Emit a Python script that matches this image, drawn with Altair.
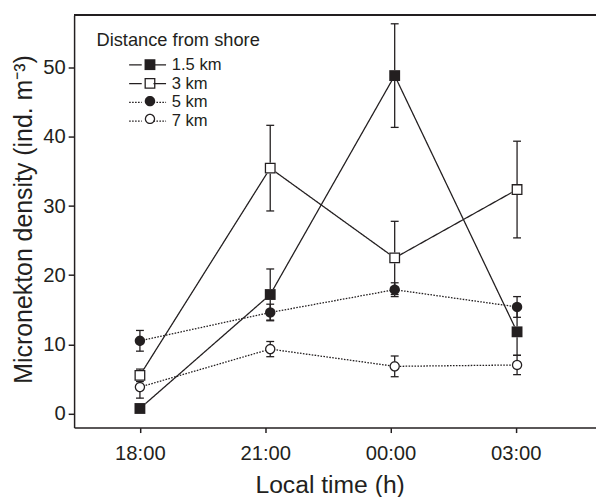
import math
import altair as alt
import pandas as pd

# ---- data ----
times = [18.0, 21.12, 24.1, 27.03]          # sampling times (hours, 27 = 03:00 next day)
distances = ["1.5 km", "3 km", "5 km", "7 km"]
mean_15 = [0.7, 17.2, 48.9, 11.8]
se_15 = [0.0, 3.7, 7.5, 3.4]
mean_3 = [5.5, 35.5, 22.5, 32.4]
se_3 = [0.9, 6.2, 5.3, 7.0]
mean_5 = [10.5, 14.6, 17.9, 15.4]
se_5 = [1.5, 1.2, 1.0, 1.5]
mean_7 = [3.8, 9.3, 6.8, 7.0]
se_7 = [1.6, 1.1, 1.5, 1.4]
tick_hours = [18, 21, 24, 27]
y_ticks = [0, 10, 20, 30, 40, 50]

INK = "#231f20"
FONT = "Liberation Sans"

rows = []
for d, m, s in zip(distances, [mean_15, mean_3, mean_5, mean_7], [se_15, se_3, se_5, se_7]):
    for t, mv, sv in zip(times, m, s):
        rows.append({"time": t, "dist": d, "dist_p": d, "mean": mv, "lo": mv - sv, "hi": mv + sv, "se": sv})
df = pd.DataFrame(rows)

x_enc = alt.X("time:Q",
              scale=alt.Scale(domain=[16.424, 28.92], nice=False, zero=False),
              axis=alt.Axis(values=tick_hours, title="Local time (h)", titleX=259,
                            labelExpr="(datum.value % 24 < 10 ? '0' : '') + (datum.value % 24) + ':00'"))
y_enc = alt.Y("mean:Q",
              scale=alt.Scale(domain=[-2.07, 57.64], nice=False, zero=False),
              axis=alt.Axis(values=y_ticks, title="Micronekton density (ind. m⁻³)", titleY=206.5))


# marker glyphs (unit box -1..1); circles as fine polygons so their bounds are exact
def ring(r, reverse=False, n=32):
    pts = [(r * math.cos(2 * math.pi * k / n), r * math.sin(2 * math.pi * k / n)) for k in range(n)]
    if reverse:
        pts = pts[::-1]
    return "M" + "L".join(f"{x:.3f},{y:.3f}" for x, y in pts) + "Z"


SQ_FULL = "M-1.1,-1.1H1.1V1.1H-1.1Z"
SQ_OPEN = "M-1.1,-1.1H1.1V1.1H-1.1Z M-0.84,-0.84V0.84H0.84V-0.84Z"
CI_FULL = ring(1.05)
CI_OPEN = ring(1.05) + " " + ring(0.79, reverse=True)
LEG_LINE = "M-2.2,0H-0.7M0.7,0H2.2"
LEG_FS = 16.8

base = alt.Chart(df)

frame_top = base.mark_rule(color=INK, strokeWidth=1.5).encode(y=alt.value(0))

lines = base.mark_line(color=INK, strokeWidth=1.3).encode(
    x=x_enc, y=y_enc,
    strokeDash=alt.StrokeDash("dist:N",
        scale=alt.Scale(domain=distances, range=[[1, 0], [1, 0], [1.6, 1.4], [1.6, 1.4]]),
        legend=alt.Legend(
            orient="none", legendX=22.7, legendY=16.5, padding=0,
            title="Distance from shore", titleFont=FONT, titleFontSize=18.5,
            titleFontWeight="normal", titleColor=INK, titlePadding=5.8,
            labelFont=FONT, labelFontSize=LEG_FS, labelColor=INK, rowPadding=0,
            symbolType=LEG_LINE, symbolSize=289, symbolStrokeWidth=1.3,
            symbolStrokeColor=INK, symbolOffset=42.3, labelOffset=15)),
)

err = base.transform_filter("datum.se > 0").mark_rule(color=INK, strokeWidth=1.3).encode(
    x="time:Q", y="lo:Q", y2="hi:Q")
cap_lo = base.transform_filter("datum.se > 0").mark_tick(
    orient="horizontal", size=8, thickness=1.3, color=INK, opacity=1).encode(x="time:Q", y="lo:Q")
cap_hi = base.transform_filter("datum.se > 0").mark_tick(
    orient="horizontal", size=8, thickness=1.3, color=INK, opacity=1).encode(x="time:Q", y="hi:Q")

# white backing under the markers so lines / error bars do not show through open symbols
back_sq = base.transform_filter("datum.dist == '1.5 km' || datum.dist == '3 km'").mark_square(
    color="white", opacity=1, size=121).encode(x="time:Q", y="mean:Q")
back_ci = base.transform_filter("datum.dist == '5 km' || datum.dist == '7 km'").mark_circle(
    color="white", opacity=1, size=87).encode(x="time:Q", y="mean:Q")

# marker legend: symbols only (blank labels keep the row height), laid over the line-style legend
points = base.mark_point(filled=True, opacity=1, size=100, color=INK).encode(
    x="time:Q", y="mean:Q",
    shape=alt.Shape("dist_p:N",
        scale=alt.Scale(range=[SQ_FULL, SQ_OPEN, CI_FULL, CI_OPEN]),
        legend=alt.Legend(orient="none", legendX=22.7, legendY=41.7, padding=0, title=None,
                          labelExpr="' '", labelFont=FONT, labelFontSize=LEG_FS,
                          symbolSize=100, symbolOffset=45.8, labelOffset=0, rowPadding=0)),
)

chart = alt.layer(frame_top, lines, err, cap_lo, cap_hi, back_sq, back_ci, points).properties(
    width=529, height=418,
    autosize=alt.AutoSizeParams(type="none"),
    padding={"left": 67, "top": 4, "right": 0, "bottom": 67},
).configure_view(stroke=None).configure_axis(
    domainColor=INK, domainWidth=1.5, tickColor=INK, tickWidth=1.5,
    labelFont=FONT, labelFontSize=20.5, labelColor=INK,
    titleFont=FONT, titleFontWeight="normal", titleColor=INK,
    grid=False,
).configure_axisX(
    tickSize=5, labelPadding=11, titlePadding=9, titleFontSize=25,
).configure_axisY(
    tickSize=6, labelPadding=3, titlePadding=6, titleFontSize=25.2,
)

chart.save("out.html", embed_options={"renderer": "svg", "actions": False})
